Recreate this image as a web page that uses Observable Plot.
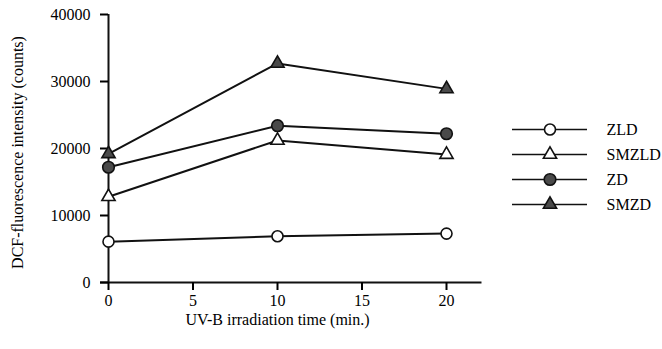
<!DOCTYPE html>
<html>
<head>
<meta charset="utf-8">
<script src="https://cdn.jsdelivr.net/npm/d3@7"></script>
<script src="https://cdn.jsdelivr.net/npm/@observablehq/plot@0.6"></script>
<style>
  html, body { margin: 0; padding: 0; background: #fff; }
  #wrap { position: relative; width: 662px; height: 349px; overflow: hidden; }
  #legend { position: absolute; left: 500px; top: 80px; }
  #wrap svg, #wrap svg text { font-family: "Liberation Serif", "Times New Roman", serif !important; }
</style>
</head>
<body>
<div id="wrap"><div id="chart"></div><div id="legend"></div></div>
<script>
const times = [0, 10, 20];
const seriesNames = ["ZLD", "SMZLD", "ZD", "SMZD"];
const zld = [6100, 6900, 7300];
const smzld = [12800, 21200, 19100];
const zd = [17200, 23400, 22200];
const smzd = [19200, 32700, 28900];
const xTicks = [0, 5, 10, 15, 20];
const yTicks = [0, 10000, 20000, 30000, 40000];
const xLabel = "UV-B irradiation time (min.)";
const yLabel = "DCF-fluorescence intensity (counts)";

const seriesValues = [zld, smzld, zd, smzd];
const symbols = {ZLD: "circle", SMZLD: "triangle", ZD: "circle", SMZD: "triangle"};
const fills = {ZLD: "white", SMZLD: "white", ZD: "#4a4a4a", SMZD: "#4a4a4a"};
const sizes = {ZLD: 5.5, SMZLD: 4.9, ZD: 5.8, SMZD: 4.9};
const serif = "Liberation Serif";

const rows = [];
seriesNames.forEach((s, i) => times.forEach((t, j) => rows.push({series: s, time: t, value: seriesValues[i][j]})));

const chart = Plot.plot({
  width: 662,
  height: 349,
  marginLeft: 108,
  marginRight: 216,
  marginTop: 14,
  marginBottom: 67,
  style: {fontSize: "16px", fontFamily: serif, color: "#000", background: "white"},
  x: {domain: [0, 20]},
  y: {domain: [0, 40000]},
  marks: [
    Plot.ruleX([0], {y1: 0, y2: 40000, stroke: "#111", strokeWidth: 2}),
    Plot.ruleY([0], {x1: -0.47, x2: 22.1, stroke: "#111", strokeWidth: 2}),
    Plot.axisY({ticks: yTicks, tickSize: 8, tickPadding: 10, tickFormat: d => String(d), label: null, strokeWidth: 2, fontSize: 16, fontFamily: serif, fill: "#000"}),
    Plot.axisX({ticks: xTicks, tickSize: 8, tickPadding: 4, tickFormat: d => String(d), label: null, strokeWidth: 2, fontSize: 16, fontFamily: serif, fill: "#000"}),
    Plot.text([xLabel], {frameAnchor: "bottom", lineAnchor: "middle", dy: 37, text: d => d, fontSize: 16, fontFamily: serif, textAnchor: "middle", fill: "#000"}),
    Plot.text([yLabel], {frameAnchor: "left", rotate: -90, dx: -91, dy: 4, text: d => d, fontSize: 16, fontFamily: serif, textAnchor: "middle", fill: "#000"}),
    Plot.line(rows, {x: "time", y: "value", z: "series", stroke: "#111", strokeWidth: 2}),
    ...seriesNames.map(s => Plot.dot(rows.filter(r => r.series === s), {
      x: "time", y: "value", symbol: () => symbols[s], r: sizes[s], fill: fills[s], stroke: "#111", strokeWidth: 1.6
    }))
  ]
});
document.getElementById("chart").append(chart);

const legend = Plot.plot({
  width: 162,
  height: 160,
  marginLeft: 0, marginRight: 0, marginTop: 0, marginBottom: 0,
  style: {fontSize: "16px", fontFamily: serif, color: "#000", background: "transparent"},
  x: {domain: [0, 1], range: [12, 87], axis: null},
  y: {type: "point", domain: seriesNames, range: [35, 137], axis: null},
  marks: [
    Plot.ruleY(seriesNames, {y: d => d, x1: 0, x2: 1, stroke: "#111", strokeWidth: 1.6}),
    ...seriesNames.map(s => Plot.dot([s], {x: 0.5, y: d => d, symbol: () => symbols[s], r: sizes[s], fill: fills[s], stroke: "#111", strokeWidth: 1.6})),
    Plot.text(seriesNames, {x: 1, y: d => d, text: d => d, dx: 19, textAnchor: "start", fontSize: 16, fontFamily: serif, fill: "#000"})
  ]
});
document.getElementById("legend").append(legend);
</script>
</body>
</html>
